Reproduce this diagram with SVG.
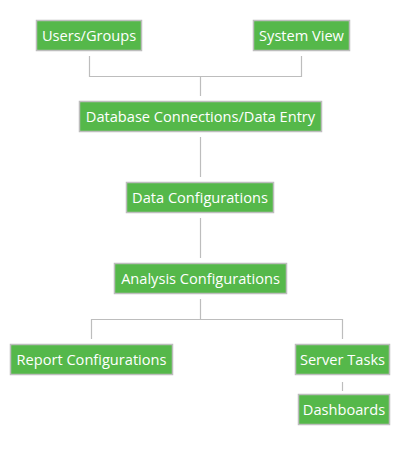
<svg xmlns="http://www.w3.org/2000/svg" width="400" height="450" viewBox="0 0 400 450">
<style>
.box{fill:#55b84a;stroke:#bdbdbd;stroke-width:1.5}
.lbl{fill:#ffffff;font-family:"Open Sans","Noto Sans",sans-serif;font-size:14.6px;text-anchor:middle}
.con{fill:none;stroke:#bdbdbd;stroke-width:1.2}
</style>
<rect width="400" height="450" fill="#ffffff"/>
<g id="connectors">
<path class="con" d="M89.5,56 V76.5 H301.5 V56 M200.5,76.5 V96"/>
<path class="con" d="M200.5,137 V177"/>
<path class="con" d="M200.5,218 V258"/>
<path class="con" d="M200.5,299 V319.5 M91.5,339 V319.5 H342.5 V339"/>
<path class="con" d="M342.5,382 V391"/>
</g>
<g id="users-groups"><rect class="box" x="36.5" y="20.5" width="105" height="30"/><text class="lbl" x="89" y="41">Users/Groups</text></g>
<g id="system-view"><rect class="box" x="253.5" y="20.5" width="96" height="30"/><text class="lbl" x="301.5" y="41">System View</text></g>
<g id="db-connections"><rect class="box" x="79.5" y="101.5" width="242" height="30"/><text class="lbl" x="200.5" y="122">Database Connections/Data Entry</text></g>
<g id="data-config"><rect class="box" x="126.5" y="182.5" width="147" height="30"/><text class="lbl" x="200" y="203">Data Configurations</text></g>
<g id="analysis-config"><rect class="box" x="114.5" y="263.5" width="172" height="30"/><text class="lbl" x="200.5" y="284">Analysis Configurations</text></g>
<g id="report-config"><rect class="box" x="10.5" y="344.5" width="162" height="30"/><text class="lbl" x="91.5" y="365">Report Configurations</text></g>
<g id="server-tasks"><rect class="box" x="295.5" y="344.5" width="94" height="30"/><text class="lbl" x="342.5" y="365">Server Tasks</text></g>
<g id="dashboards"><rect class="box" x="298.5" y="394.5" width="91" height="30"/><text class="lbl" x="344" y="415">Dashboards</text></g>
</svg>
